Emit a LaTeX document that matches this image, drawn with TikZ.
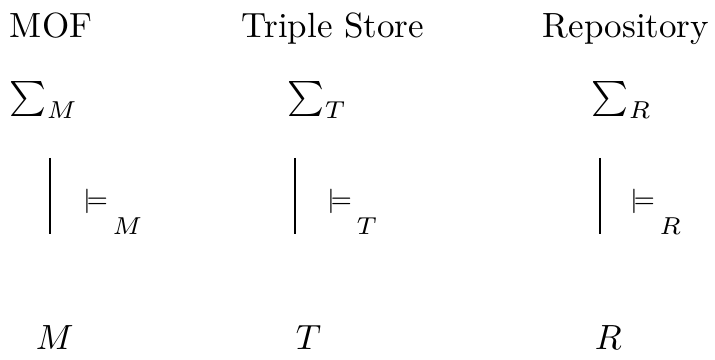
\documentclass[tikz,border=0pt]{standalone}
\begin{document}
\begin{tikzpicture}[x=0.2857pt,y=-0.2857pt,
  txt/.style={inner sep=0pt,outer sep=0pt,anchor=base west},
  vline/.style={line width=0.8pt}]
\useasboundingbox (0,0) rectangle (715,360);
\newcommand{\entails}[1]{$\scriptstyle\models\kern1.3pt\raisebox{-7.7pt}{$\scriptstyle #1$}$}
% headers
\node[txt] (hM) at (10,37) {MOF};
\node[txt] (hT) at (242,37) {Triple Store};
\node[txt] (hR) at (543,37) {Repository};
% signatures
\node[txt] (sM) at (10,108) {$\sum_M$};
\node[txt] (sT) at (288,108) {$\sum_T$};
\node[txt] (sR) at (592,108) {$\sum_R$};
% bottom objects
\node[txt] (mM) at (36,350) {$M$};
\node[txt] (mT) at (296,350) {$T$};
\node[txt] (mR) at (595,350) {$R$};
% connectors
\coordinate (aM) at (50,158); \coordinate (bM) at (50,234);
\coordinate (aT) at (295,158); \coordinate (bT) at (295,234);
\coordinate (aR) at (600,158); \coordinate (bR) at (600,234);
\draw[vline] (aM) -- (bM);
\draw[vline] (aT) -- (bT);
\draw[vline] (aR) -- (bR);
% labels
\node[txt] (lM) at (83,208) {\entails{M}};
\node[txt] (lT) at (327,208) {\entails{T}};
\node[txt] (lR) at (630,208) {\entails{R}};
\end{tikzpicture}
\end{document}
